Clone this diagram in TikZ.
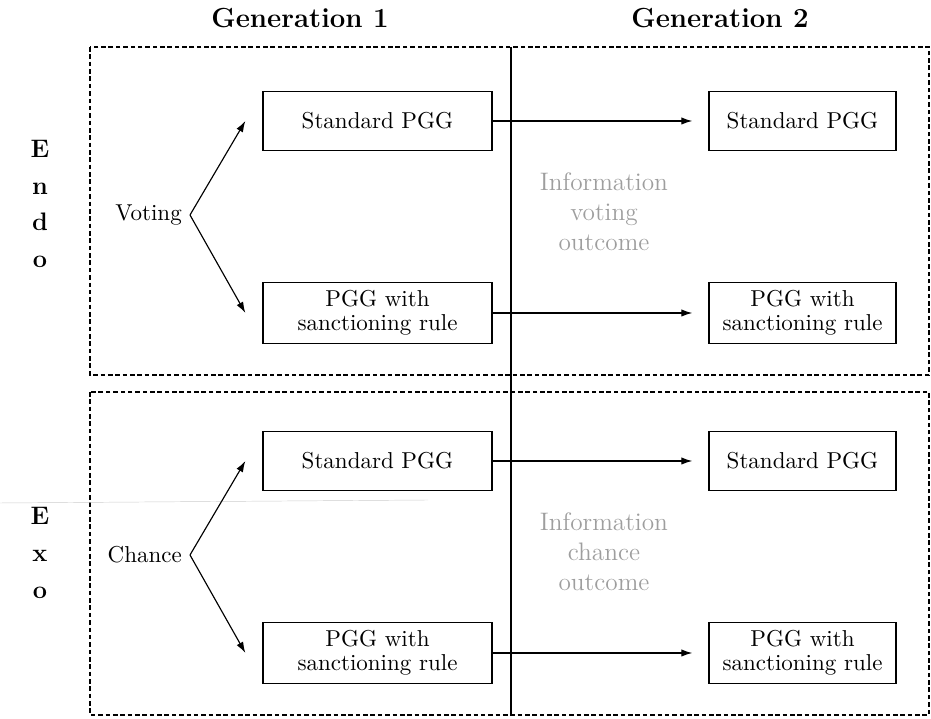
\documentclass[tikz,border=0pt]{standalone}
\usepackage{tikz}
\usetikzlibrary{arrows.meta,positioning}

\begin{document}
\begin{tikzpicture}[x=0.4348pt, y=-0.4348pt, line width=0.5pt,
  block/.style={rectangle, draw, fill=white, text centered, align=center,
    font=\fontsize{10}{10.5}\selectfont, minimum width=99.6pt, minimum height=25.7pt},
  small block/.style={block, minimum width=81.3pt},
  heading/.style={font=\fontsize{12}{14}\selectfont\bfseries},
  side/.style={align=center, font=\fontsize{11}{16}\selectfont\bfseries},
  choice/.style={font=\fontsize{10}{12}\selectfont, anchor=east},
  info/.style={align=center, text=black!38, font=\fontsize{11}{13}\selectfont},
  frame/.style={draw, dash pattern=on 2pt off 1.2pt},
  line/.style={draw, -{Latex[length=4.8pt,width=3.2pt]}},
  ]
  \useasboundingbox (0,0) rectangle (931,719);

  % the two treatments
  \draw[frame] (90,47) rectangle (929,375);
  \draw[frame] (90,392) rectangle (929,715);
  \draw (511,47) -- (511,715);
  \draw[black!20, very thin] (0,503) -- (428,500);

  \node (gen1) at (300,18) [heading] {Generation 1};
  \node (gen2) at (720,18) [heading] {Generation 2};
  \node (endo) at (40,204) [side] {E\\n\\d\\o};
  \node (exo) at (40,553) [side] {E\\x\\o};

  \node (voting) at (190,215) [choice] {Voting};
  \node (std vote one) at (377.5,121) [block] {Standard PGG};
  \node (sanc vote one) at (377.5,313) [block] {PGG with\\sanctioning rule};
  \node (std vote two) at (802.5,121) [small block] {Standard PGG};
  \node (sanc vote two) at (802.5,313) [small block] {PGG with\\sanctioning rule};
  \node (info vote) at (604,212) [info] {Information\\voting\\outcome};

  \node (chance) at (190,555) [choice] {Chance};
  \node (std chance one) at (377.5,461) [block] {Standard PGG};
  \node (sanc chance one) at (377.5,653) [block] {PGG with\\sanctioning rule};
  \node (std chance two) at (802.5,461) [small block] {Standard PGG};
  \node (sanc chance two) at (802.5,653) [small block] {PGG with\\sanctioning rule};
  \node (info chance) at (604,552) [info] {Information\\chance\\outcome};

  % edges:
  \path[line] (voting.east) -- ([xshift=-7.4pt]std vote one.west);
  \path[line] (voting.east) -- ([xshift=-7.4pt]sanc vote one.west);
  \path[line] (std vote one) -- ([xshift=-7pt]std vote two.west);
  \path[line] (sanc vote one) -- ([xshift=-7pt]sanc vote two.west);
  \path[line] (chance.east) -- ([xshift=-7.4pt]std chance one.west);
  \path[line] (chance.east) -- ([xshift=-7.4pt]sanc chance one.west);
  \path[line] (std chance one) -- ([xshift=-7pt]std chance two.west);
  \path[line] (sanc chance one) -- ([xshift=-7pt]sanc chance two.west);
\end{tikzpicture}
\end{document}
